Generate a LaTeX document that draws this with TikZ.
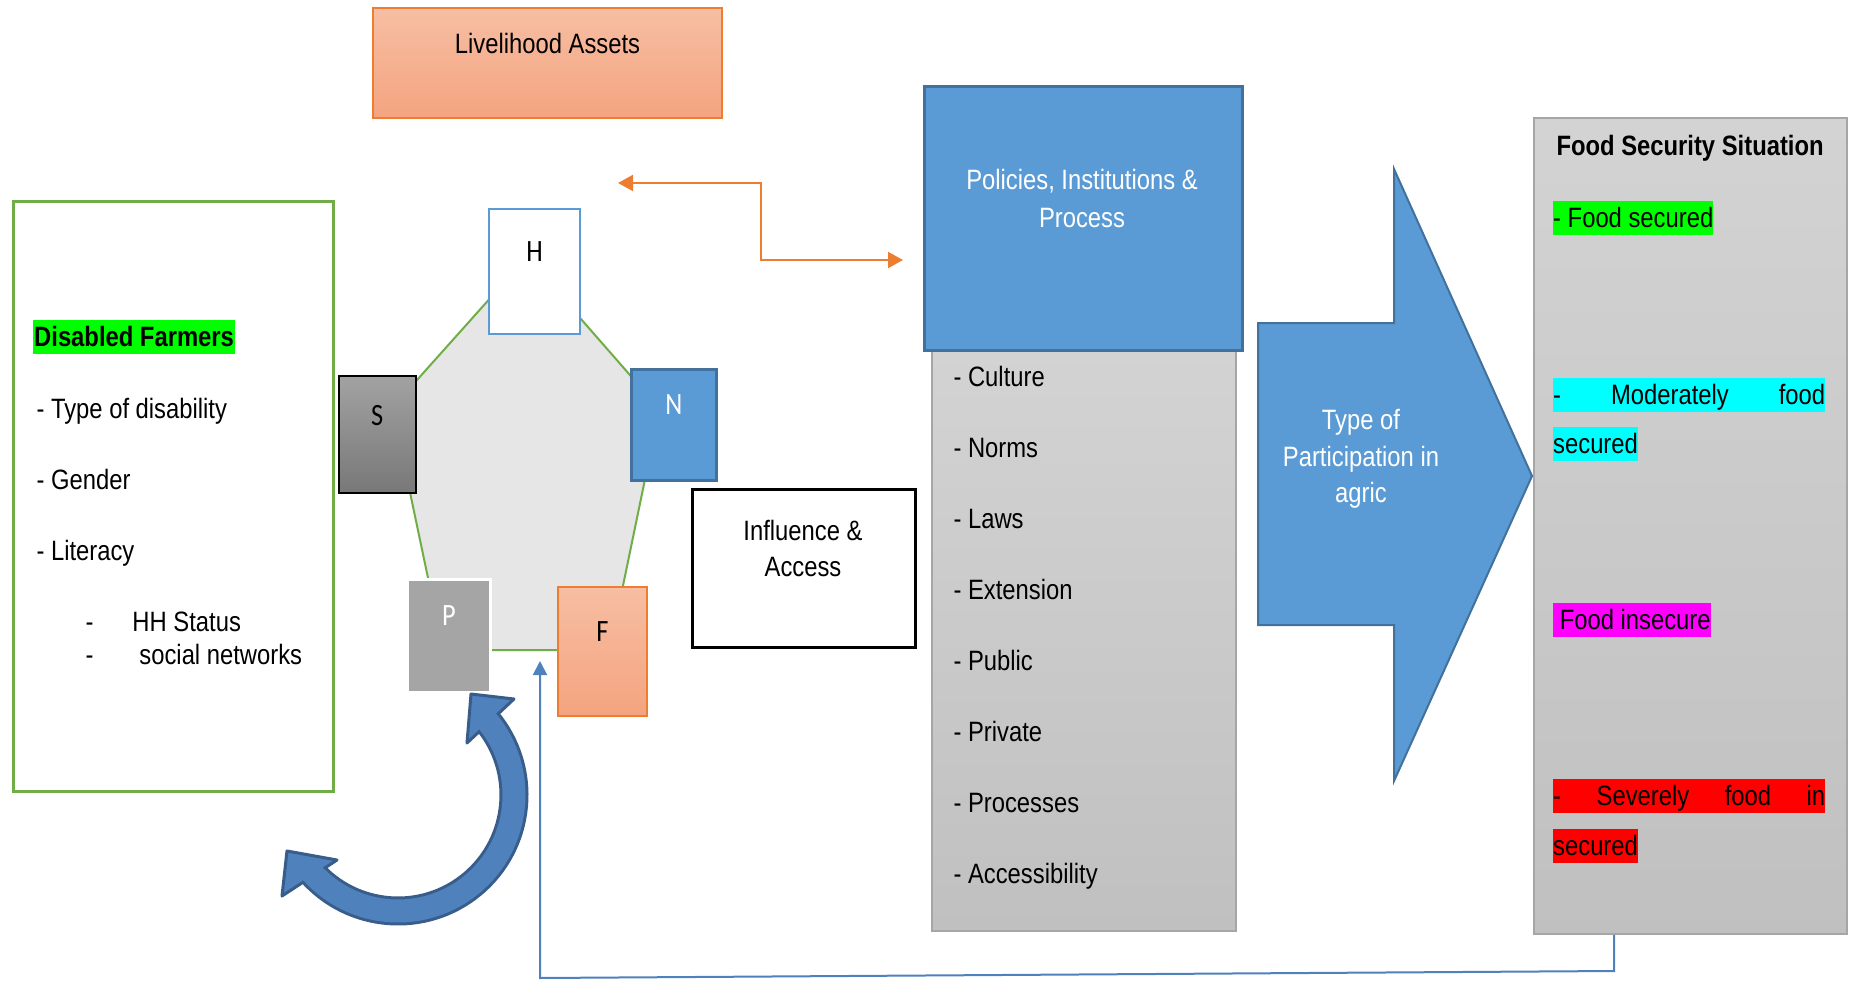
\documentclass[tikz,border=0pt]{standalone}
\usepackage{fontspec}
\setmainfont{Liberation Sans}[FakeStretch=0.85]
\newfontfamily\calib{Carlito}[FakeStretch=0.85]
\usetikzlibrary{arrows.meta,calc}
\definecolor{pblue}{HTML}{5B9BD5}
\definecolor{pbluedark}{HTML}{41719C}
\definecolor{lgreen}{HTML}{70AD47}
\definecolor{orng}{HTML}{ED7D31}
\definecolor{orngtop}{HTML}{F7BEA3}
\definecolor{orngbot}{HTML}{F4A47F}
\definecolor{graytop}{HTML}{D3D3D3}
\definecolor{graybot}{HTML}{C0C0C0}
\definecolor{grayedge}{HTML}{A6A6A6}
\definecolor{hexfill}{HTML}{E6E6E6}
\definecolor{stop}{HTML}{A2A2A2}
\definecolor{sbot}{HTML}{787878}
\definecolor{pgray}{HTML}{A5A5A5}
\definecolor{cblue}{HTML}{4F81BD}
\definecolor{cbluedark}{HTML}{385D8A}
\definecolor{hlgreen}{HTML}{00FF00}
\definecolor{hlcyan}{HTML}{00FFFF}
\definecolor{hlmag}{HTML}{FF00FF}
\definecolor{hlred}{HTML}{FF0000}
\begin{document}
\begin{tikzpicture}[x=1pt,y=-1pt,font=\fontsize{28}{36}\selectfont,
  boxat/.style 2 args={minimum width=#1, minimum height=#2, inner sep=0pt, anchor=north west},
  hl/.style={fill=#1, inner xsep=0pt, inner ysep=0pt, text height=26pt, text depth=8pt, anchor=base west},
  item/.style={anchor=base west},
  letter/.style={anchor=base, font=\calib\fontsize{31}{36}\selectfont}]
\useasboundingbox (0,0) rectangle (1850,980);
\fill[white] (0,0) rectangle (1850,980);

% Livelihood assets
\node[boxat={349}{110}, draw=orng, line width=2, top color=orngtop, bottom color=orngbot] (la) at (372,7) {};
\node[anchor=base] (latext) at ($(la.north)+(0,46)$) {Livelihood Assets};

% Disabled farmers panel
\node[boxat={320}{590}, draw=lgreen, line width=3] (df) at (12,200) {};
\node[hl=hlgreen, inner xsep=1pt] (dft) at (33,346) {\bfseries Disabled Farmers};
\node[item] (d1) at (33,418) {- Type of disability};
\node[item] (d2) at (33,489) {- Gender};
\node[item] (d3) at (33,560) {- Literacy};
\node[item] (d4) at (82,631) {-\hspace{39pt}HH Status};
\node[item] (d5) at (82,664) {-\hspace{46pt}social networks};

% asset pentagon
\filldraw[fill=hexfill, draw=lgreen, line width=2]
  (510,276) -- (400,399) -- (407,478) -- (432,597) -- (470,650) -- (575,650)
  -- (619,605) -- (649,460) -- (650,398) -- (560,295) -- cycle;
\node[boxat={91}{125}, fill=white, draw=pblue, line width=2] (H) at (488,208) {};
\node[letter] at ($(H.north)+(0,53)$) {H};
\node[boxat={77}{117}, draw=black, line width=1.5, top color=stop, bottom color=sbot] (S) at (338,375) {};
\node[letter] at ($(S.north)+(0,50)$) {S};
\node[boxat={85}{111}, fill=pblue, draw=pbluedark, line width=2.5] (N) at (630,368) {};
\node[letter, text=white] at ($(N.north)+(0,46)$) {N};
\node[boxat={83}{113}, fill=pgray, draw=white, line width=3] (P) at (406,578) {};
\node[letter, text=white] at ($(P.north)+(0,47)$) {P};
\node[boxat={89}{129}, draw=orng, line width=2, top color=orngtop, bottom color=orngbot] (F) at (557,586) {};
\node[letter] at ($(F.north)+(0,55)$) {F};

% Influence & access
\node[boxat={223}{158}, fill=white, draw=black, line width=3] (ia) at (691,488) {};
\node[align=center, font=\fontsize{28}{36}\selectfont] (iatext) at (803,548) {Influence \&\\Access};

% Policies, institutions & process
\node[boxat={304}{581}, draw=grayedge, line width=1.5, top color=graytop, bottom color=graybot] (lst) at (931,349) {};
\node[boxat={318}{264}, fill=pblue, draw=pbluedark, line width=2.5] (pip) at (923,85) {};
\node[align=center, text=white, font=\fontsize{28}{38}\selectfont] (piptext) at (1082,198) {Policies, Institutions \&\\Process};
\foreach \t [count=\i from 0] in {Culture,Norms,Laws,Extension,Public,Private,Processes,Accessibility}
  \node[item] (li\i) at (950,{386+71*\i}) {- \t};

% block arrow
\draw[fill=pblue, draw=pbluedark, line width=2, line join=miter]
  (1258,323) -- (1394,323) -- (1394,169) -- (1532,476) -- (1394,781) -- (1394,625) -- (1258,625) -- cycle;
\node[align=center, text=white, font=\fontsize{28}{36.5}\selectfont] (tp) at (1361,459) {Type of\\Participation in\\agric};

% Food security situation
\node[boxat={313}{816}, draw=grayedge, line width=2, top color=graytop, bottom color=graybot] (fs) at (1533,117) {};
\node[item] (fst) at (1553,155) {\bfseries Food Security Situation};
\node[hl=hlgreen] (fs1) at (1553,227) {- Food secured};
\node[hl=hlcyan] (fs2) at (1553,404) {\hbox to 272pt{-\hfill Moderately\hfill food}};
\node[hl=hlcyan] (fs3) at (1553,453) {secured};
\node[hl=hlmag] (fs4) at (1553,629) {\hspace*{6.6pt}Food insecure};
\node[hl=hlred] (fs5) at (1553,805) {\hbox to 272pt{-\hfill Severely\hfill food\hfill in}};
\node[hl=hlred] (fs6) at (1553,855) {secured};

% orange double arrow
\coordinate (o1) at (618,183);
\coordinate (o2) at (761,220);
\coordinate (o3) at (903,260);
\draw[orng, line width=2, {Triangle[length=15pt,width=16pt]}-{Triangle[length=15pt,width=16pt]}] (o1) -| (o2) |- (o3);

% feedback line
\coordinate (fb1) at (1614,971);
\coordinate (fb2) at (540,978);
\coordinate (fb3) at (540,661);
\draw[cblue, line width=2, -{Triangle[length=14pt,width=14pt]}] (fs.south -| fb1) -- (fb1) -- (fb2) -- (fb3);

% curved double arrow
\coordinate (cc) at (398,795);
\draw[cbluedark, line width=29] ($(cc)+(-40:116)$) arc[start angle=-40, end angle=139, radius=116];
\draw[fill=cblue, draw=cbluedark, line width=3, line join=round] (471,694) -- (514,699) -- (467,743) -- cycle;
\draw[fill=cblue, draw=cbluedark, line width=3, line join=round] (287,851) -- (337,860) -- (282,896) -- cycle;
\draw[cblue, line width=23] ($(cc)+(-42:116)$) arc[start angle=-42, end angle=141, radius=116];
\end{tikzpicture}
\end{document}
